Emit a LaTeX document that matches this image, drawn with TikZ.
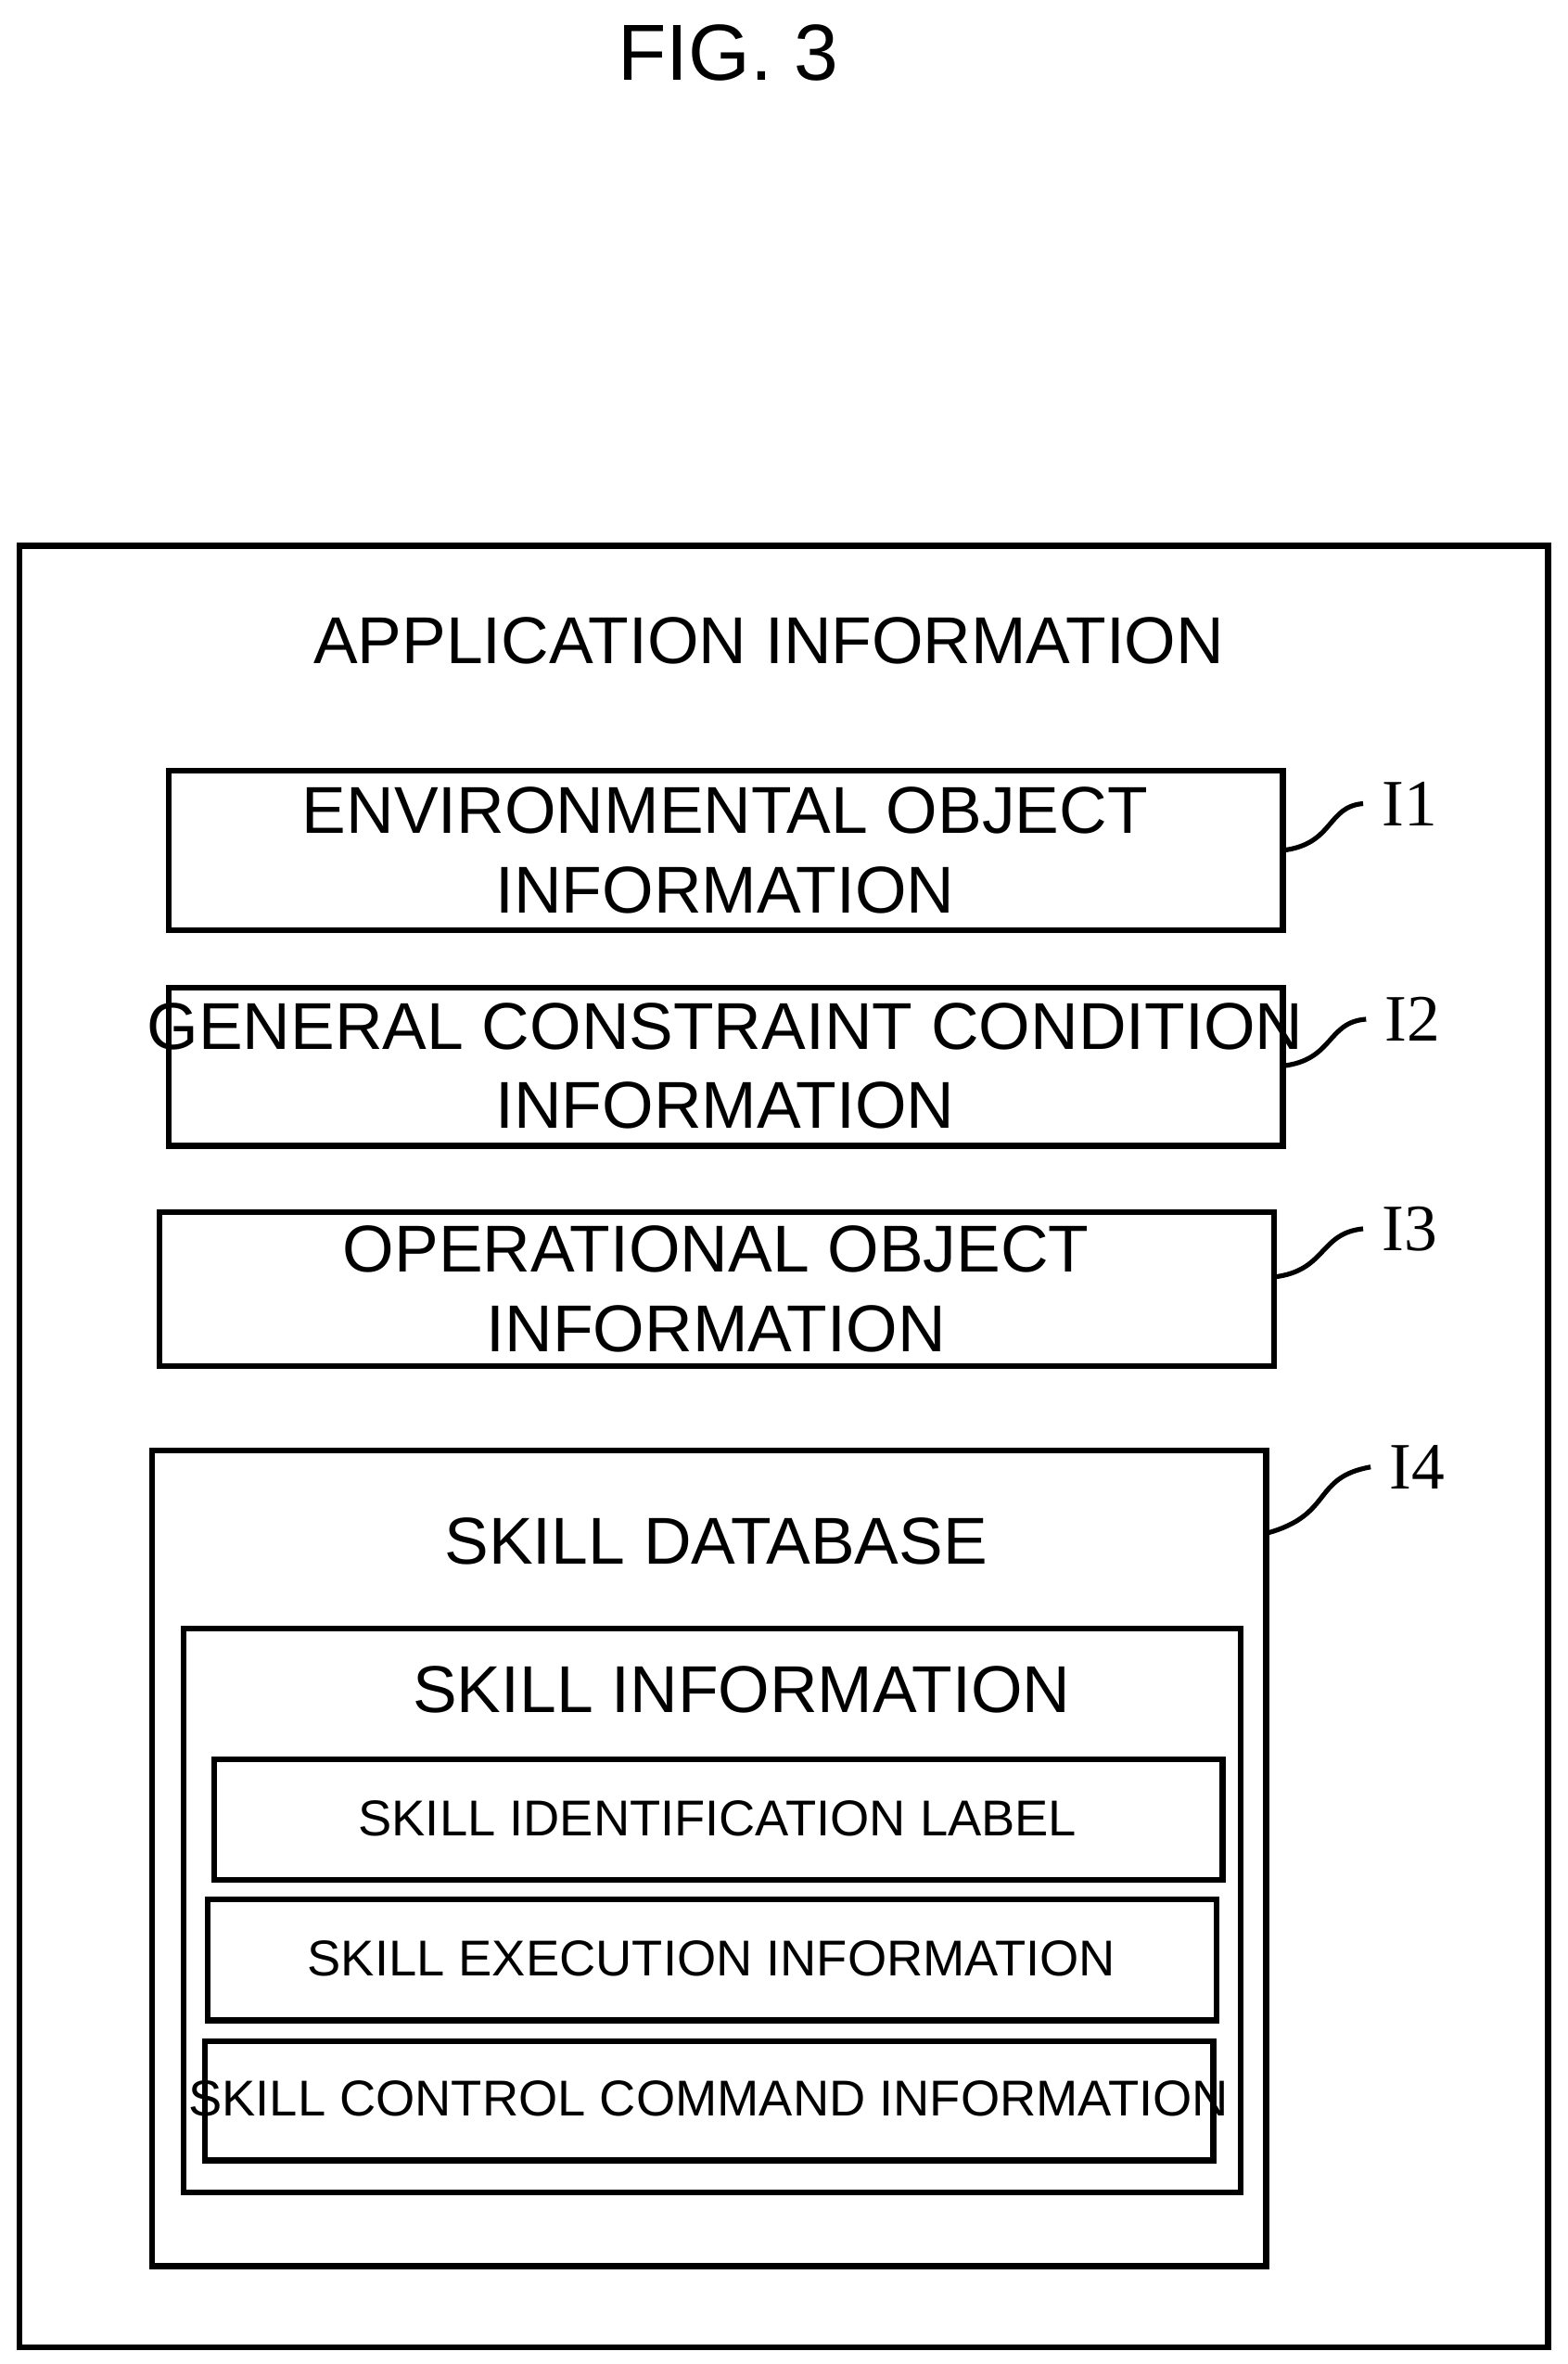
\documentclass[tikz,border=0pt]{standalone}
\usepackage{fontspec}
\setmainfont{Liberation Sans}
\usetikzlibrary{positioning}
\tikzset{
  blk/.style={draw, line width=1.1pt, inner sep=0pt},
  big/.style={font=\fontsize{12.5}{15}\selectfont, align=center},
  small/.style={font=\fontsize{9.5}{11}\selectfont},
  tag/.style={font=\fontsize{12}{14}\rmfamily\selectfont},
  lead/.style={line width=0.9pt}
}
\newfontfamily\tagfont{Liberation Serif}
\begin{document}
\begin{tikzpicture}[x=0.01cm,y=-0.01cm]
	\useasboundingbox (0,0) rectangle (1040,1568);
	
	% Title
	\node[font=\fontsize{15}{18}\selectfont] (fig) at (483,35) {FIG. 3};
	
	% Outer frame
	\draw[blk] (13,362) rectangle (1027,1557);
	\node[big] (app) at (510,425) {APPLICATION INFORMATION};
	
	% Information blocks
	\draw[blk] (112,511) rectangle (851,617);
	\node[big] (env) at (481,564) {ENVIRONMENTAL OBJECT\\INFORMATION};
	\draw[blk] (112,655) rectangle (851,760);
	\node[big] (gen) at (481,707) {GENERAL CONSTRAINT CONDITION\\INFORMATION};
	\draw[blk] (106,804) rectangle (845,906);
	\node[big] (ope) at (475,855) {OPERATIONAL OBJECT\\INFORMATION};
	
	% Skill database
	\draw[blk] (101,962) rectangle (840,1503);
	\node[big] (sdb) at (475,1022) {SKILL DATABASE};
	\draw[blk] (122,1080) rectangle (823,1454);
	\node[big] (sinf) at (492,1121) {SKILL INFORMATION};
	\draw[blk] (142,1167) rectangle (811,1247);
	\node[small] (lbl) at (476,1206) {SKILL IDENTIFICATION LABEL};
	\draw[blk] (138,1260) rectangle (807,1340);
	\node[small] (exe) at (472,1299) {SKILL EXECUTION INFORMATION};
	\draw[blk] (136,1354) rectangle (805,1433);
	\node[small] (ctl) at (470,1392) {SKILL CONTROL COMMAND INFORMATION};
	
	% Reference tags
	\node[tag, font=\fontsize{12.5}{14}\tagfont] (t1) at (935,533) {I1};
	\node[tag, font=\fontsize{12.5}{14}\tagfont] (t2) at (937,676) {I2};
	\node[tag, font=\fontsize{12.5}{14}\tagfont] (t3) at (935,815) {I3};
	\node[tag, font=\fontsize{12.5}{14}\tagfont] (t4) at (940,973) {I4};
	
	\coordinate (c1) at (851,564);
	\coordinate (c2) at (851,707);
	\coordinate (c3) at (845,847);
	\coordinate (c4) at (840,1017);
	\draw[lead] (c1) .. controls (885,560) and (880,535) .. (t1.west);
	\draw[lead] (c2) .. controls (885,703) and (880,678) .. (t2.west);
	\draw[lead] (c3) .. controls (880,843) and (875,818) .. (t3.west);
	\draw[lead] (c4) .. controls (885,1005) and (870,980) .. (t4.west);
	
\end{tikzpicture}
\end{document}
